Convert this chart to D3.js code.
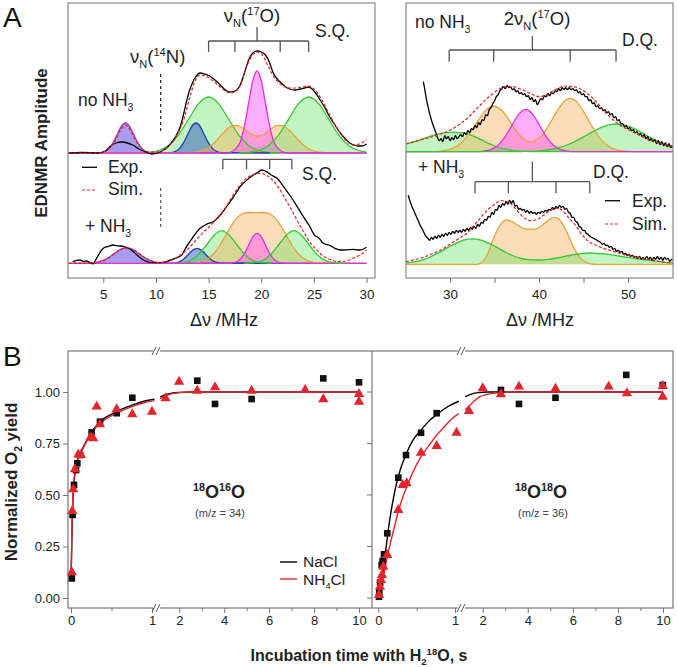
<!DOCTYPE html>
<html><head><meta charset="utf-8">
<script src="https://cdn.jsdelivr.net/npm/d3@7"></script>
<style>body{margin:0;background:#fff}svg{display:block}</style>
</head><body>
<svg id="c" width="677" height="667"></svg>
<script>
// ================= DATA =================
// Panel A: [MHz, amplitude] pairs
const tlPurple=[[1.7,0],[4.7,0.3],[5.1,1.3],[5.5,4.1],[5.9,9.8],[6.3,18.2],[6.7,26.5],[7.1,30],[7.5,26.5],[7.9,18.2],[8.3,9.8],[8.7,4.1],[9.1,1.3],[9.5,0.3],[30,0]];
const tlBlue=[[10.4,0],[11.4,0.3],[11.8,1.3],[12.2,4.1],[12.6,9.8],[13.0,18.2],[13.4,26.5],[13.8,30],[14.2,26.5],[14.6,18.2],[15.0,9.8],[15.4,4.1],[15.8,1.3],[16.2,0.3],[20.8,0]];
const tlGreen1=[[8.4,0],[9.3,0.6],[10.25,2.5],[11.2,7.6],[12.15,18.2],[13.1,33.9],[14.05,49.4],[15.0,56],[15.95,49.4],[16.9,33.9],[17.85,18.2],[18.8,7.6],[19.75,2.5],[20.7,0.6],[21.6,0]];
const tlGreen2=[[17.9,0],[18.8,0.6],[19.75,2.5],[20.7,7.6],[21.65,18.2],[22.6,33.9],[23.55,49.4],[24.5,56],[25.45,49.4],[26.4,33.9],[27.35,18.2],[28.3,7.6],[29.25,2.5],[30.0,0.8]];
const tlOrange=[[1.7,0],[12.5,0],[13,0.2],[13.5,0.5],[14,1.2],[14.5,2.8],[15,5.6],[15.5,9.9],[16,15.5],[16.5,21.3],[17,25.9],[17.5,27.7],[18,26.5],[18.5,23],[19,19.2],[19.5,17],[20,17.6],[20.5,20.7],[21,24.6],[21.5,27.4],[22,27.4],[22.5,24.3],[23,19.1],[23.5,13.2],[24,8],[24.5,4.3],[25,2],[25.5,0.8],[26,0.3],[26.5,0.1],[30,0]];
const tlMagenta=[[1.7,0],[16.7,0],[17.1,0.9],[17.5,3.6],[18.0,11.1],[18.4,26.7],[18.8,49.8],[19.2,72.3],[19.6,82],[20.0,72.3],[20.4,49.8],[20.8,26.7],[21.2,11.1],[21.7,3.6],[22.1,0.9],[22.5,0],[30,0]];
const tlExp=[[1.7,0],[3,0.5],[4.5,0],[5.2,2],[5.6,6],[6.2,10],[6.8,11],[7.3,10],[7.8,8],[8.4,4],[8.8,2],[9.6,-1],[10.4,1],[11.3,8],[12.3,26],[13.2,63],[13.7,75],[14.2,80],[14.6,79],[15.1,77],[15.6,73],[16.1,68],[16.6,63],[17.0,61],[17.5,62],[18.0,68],[18.4,80],[18.8,93],[19.2,100],[19.6,102],[20.0,101],[20.4,98],[20.8,90],[21.1,81],[21.5,74],[21.9,70],[22.3,66],[22.7,64],[23.2,63],[23.7,64],[24.1,65],[24.5,66],[25.0,62],[25.6,53],[26.0,46],[26.5,36],[27.0,28],[27.5,20],[28.0,14],[28.4,10],[28.8,8],[29.2,7],[29.6,7],[30,9]];
const tlSim=[[1.7,0],[4.5,0],[5.5,4],[6.2,14],[6.7,24],[7.1,28],[7.5,24],[8.1,12],[8.7,4],[9.3,1],[10,1],[11,5],[12,18],[12.6,32],[13.2,55],[13.7,72],[14.2,78],[14.7,77],[15.3,73],[16,67],[16.6,62],[17.1,60],[17.6,62],[18.1,70],[18.6,86],[19.1,97],[19.6,101],[20.1,98],[20.6,88],[21.1,78],[21.6,71],[22.1,67],[22.7,65],[23.3,65],[23.9,66],[24.5,67],[25.1,63],[25.7,54],[26.3,42],[26.9,30],[27.5,20],[28.1,12],[28.7,8],[29.3,9],[30,13]];

const blPurple=[[1.7,0],[3.6,0.2],[4.2,0.7],[4.8,2.1],[5.4,5.0],[6.0,9.4],[6.6,13.7],[7.2,15.5],[7.8,13.7],[8.4,9.4],[9.0,5.0],[9.6,2.1],[10.2,0.7],[10.8,0.2],[30,0]];
const blBlue=[[10.4,0],[11.5,0.2],[11.9,0.7],[12.3,2.0],[12.7,4.9],[13.1,9.1],[13.5,13.2],[13.9,15],[14.3,13.2],[14.7,9.1],[15.1,4.9],[15.5,2.0],[15.9,0.7],[16.3,0.2],[20.8,0]];
const blGreen1=[[11.5,0],[12.2,0.4],[12.9,1.4],[13.55,4.4],[14.2,10.6],[14.9,19.8],[15.6,28.8],[16.25,32.6],[16.9,28.8],[17.6,19.8],[18.3,10.6],[18.95,4.4],[19.6,1.4],[20.3,0.4],[21,0]];
const blGreen2=[[18.35,0],[19.05,0.4],[19.75,1.4],[20.4,4.4],[21.05,10.6],[21.75,19.8],[22.45,28.8],[23.1,32.6],[23.75,28.8],[24.45,19.8],[25.15,10.6],[25.8,4.4],[26.45,1.4],[27.15,0.4],[27.9,0]];
const blOrange=[[1.7,0],[13.5,0],[14,1.0],[14.5,2.3],[15,5.1],[15.5,9.8],[16,16.8],[16.5,25.7],[17,35],[17.5,43],[18,48.3],[18.5,50.5],[19,50.8],[19.5,50.6],[20,50.8],[20.5,50.5],[21,48.3],[21.5,43],[22,35],[22.5,25.7],[23,16.8],[23.5,9.8],[24,5.1],[24.5,2.3],[25,1.0],[25.5,0.35],[26,0.1],[26.5,0],[30,0]];
const blMagenta=[[1.7,0],[16.8,0],[17.2,0.3],[17.6,1.3],[18.0,4.1],[18.4,9.8],[18.8,18.2],[19.2,26.5],[19.6,30],[20.0,26.5],[20.4,18.2],[20.8,9.8],[21.2,4.1],[21.6,1.3],[22.0,0.3],[22.4,0],[30,0]];
const blExp=[[2.1,1.6],[2.5,3],[2.8,3.3],[3.1,2],[3.4,2.3],[3.7,1],[4.0,-0.6],[4.4,5.7],[4.7,11],[5.0,15],[5.5,17],[5.95,18.3],[6.3,17.5],[6.6,17.3],[7.0,16.5],[7.4,15],[7.8,12],[8.2,8.3],[8.8,3.3],[9.4,1],[10.4,0.7],[11.0,1.7],[11.6,4],[12.45,8.3],[12.9,16.6],[13.5,26],[14.2,35],[14.8,39],[15.45,41.6],[16.1,48],[16.7,56.6],[17.4,67],[18.0,76.6],[18.6,83],[19.25,88.3],[19.7,91],[20.05,93.3],[20.5,91.6],[21.0,88],[21.5,85],[22.1,77],[22.7,68.3],[23.4,57],[24.0,46.6],[24.6,37],[25.0,29],[25.5,25],[25.9,20],[26.5,18],[27.0,15],[27.5,13.3],[28.1,13.5],[28.7,14],[29.1,13.3],[29.5,13.5],[30.0,16]];
const blSim=[[1.7,0],[3.5,0],[4.5,1],[5.3,4],[6.1,10],[6.7,14],[7.2,15.5],[7.8,14],[8.5,9],[9.2,4],[10,1],[10.8,1],[11.5,3],[12.3,8],[13,14],[13.7,22],[14.4,30],[15.1,37],[15.8,45],[16.5,54],[17.2,66],[17.9,77],[18.6,85],[19.3,89],[19.9,90],[20.5,88],[21.1,83],[21.7,75],[22.3,64],[22.9,53],[23.5,41],[24.1,30],[24.7,20],[25.3,13],[25.9,7],[26.5,4],[27.1,2],[27.7,2],[28.3,3],[28.9,6],[29.5,9],[30,13]];

const trGreen1=[[25.05,7.5],[26,10],[27,13],[28,16],[29,18.3],[30,19.3],[30.75,19.4],[31.5,18.8],[32.5,16],[33.5,12],[34.5,7.5],[35.5,4],[36.5,2],[37.5,0.8],[38.5,0.3],[40,0],[55.05,0]];
const trOrange=[[25.05,0],[28,0],[29,0.6],[30,2.3],[31,6.8],[32,16],[33,29.1],[34,41.3],[34.9,45.7],[36,39.4],[37,26.6],[38,15],[38.5,11.3],[39,9.9],[40,13.4],[41,24.9],[42,40.3],[43,51.7],[43.5,53.4],[44,51.7],[45,40.3],[46,24.5],[47,11.6],[48,4.3],[49,1.2],[50,0.3],[51,0],[55.05,0]];
const trMagenta=[[25.05,0],[33.3,0],[33.7,0.5],[34.5,1.9],[35.3,5.7],[36.1,13.8],[36.9,25.7],[37.7,37.4],[38.5,42.4],[39.3,37.4],[40.1,25.7],[40.9,13.8],[41.7,5.7],[42.5,1.9],[43.3,0.5],[43.7,0],[55.05,0]];
const trGreen2=[[25.05,0],[37,0],[38,0.2],[39,0.4],[40,0.9],[41,1.8],[42,3.5],[43,6.2],[44,10],[45,14.8],[46,19.8],[47,24.3],[48,27.1],[48.7,27.7],[49.5,26.9],[50.5,23.9],[51.5,19.3],[52.5,14.3],[53.5,9.6],[54.5,5.9],[55.05,4.5]];
const trExp=[[27.0,70],[27.2,60],[27.4,50],[27.6,42],[27.8,35],[28.0,29],[28.2,24],[28.4,19],[28.6,14],[28.8,11],[29.0,13],[29.2,10],[29.4,16],[29.6,13],[29.8,15],[30.0,11],[30.2,14],[30.4,12],[30.6,16],[30.8,13],[31.0,15],[31.2,17],[31.4,15],[31.6,19],[31.8,17],[32.0,21],[32.2,19],[32.4,23],[32.6,22],[32.8,26],[33.0,24],[33.2,29],[33.4,27],[33.6,32],[33.8,31],[34.0,37],[34.2,36],[34.4,42],[34.6,44],[34.8,48],[35.0,51],[35.2,55],[35.4,57],[35.6,61],[35.8,63],[36.0,65],[36.2,63],[36.4,66],[36.6,64],[36.8,65],[37.0,62],[37.2,63],[37.4,60],[37.6,61],[37.8,58],[38.0,59],[38.2,57],[38.4,58],[38.6,55],[38.8,56],[39.0,52],[39.2,54],[39.4,50],[39.6,52],[39.8,47],[40.0,50],[40.2,53],[40.4,52],[40.6,56],[40.8,55],[41.0,58],[41.2,56],[41.4,59],[41.6,58],[41.8,61],[42.0,60],[42.2,63],[42.4,61],[42.6,64],[42.8,62],[43.0,64],[43.2,62],[43.4,64],[43.6,62],[43.8,63],[44.0,61],[44.2,62],[44.4,59],[44.6,60],[44.8,57],[45.0,58],[45.2,55],[45.4,55],[45.6,51],[45.8,52],[46.0,48],[46.2,49],[46.4,45],[46.6,46],[46.8,43],[47.0,44],[47.2,41],[47.4,42],[47.6,39],[47.8,40],[48.0,37],[48.2,38],[48.4,34],[48.6,35],[48.8,31],[49.0,32],[49.2,28],[49.4,28],[49.6,25],[49.8,26],[50.0,23],[50.2,24],[50.4,21],[50.6,22],[50.8,19],[51.0,20],[51.2,17],[51.4,18],[51.6,15],[51.8,17],[52.0,13],[52.2,15],[52.4,11],[52.6,13],[52.8,10],[53.0,12],[53.2,8],[53.4,11],[53.6,7],[53.8,10],[54.0,6],[54.2,9],[54.4,5],[54.6,8],[54.8,4],[55.0,6]];
const trSim=[[25.05,8],[26,10],[27,12.5],[28,15],[29,18],[30,21.5],[31,27],[32,34],[33,43],[34,52],[34.8,58],[35.6,63],[36.4,65],[37.1,65],[37.8,63],[38.6,60],[39.3,57],[40.1,55],[40.8,57],[41.6,61],[42.4,64.5],[43.1,65.7],[43.8,65],[44.6,63],[45.3,59],[46.1,53],[46.8,46],[47.6,38],[48.3,32],[49.1,26.5],[49.9,22.5],[50.6,19.5],[51.4,16],[52.1,13],[52.9,10.5],[53.6,8.3],[54.3,6.8],[55.05,5.5]];

const brGreen=[[25.05,1.1],[26,2.4],[27,4.7],[28,8.3],[29,12.9],[30,18],[31,22.5],[32,25.1],[32.5,25.5],[33,25.1],[34,22.5],[35,18.1],[36,13.2],[37,8.8],[38,5.8],[39,4.4],[40,4.3],[41,4.9],[42,6.3],[43,8.1],[44,9.8],[45,11],[45.7,11.3],[46.5,11],[47,10.6],[48,9.6],[49,8.3],[50,6.9],[51,5.5],[52,4.2],[53,3.1],[54,2.2],[55.05,1.5]];
const brOrange=[[25.05,0],[33.0,0],[33.6,2],[34.2,10],[34.8,24],[35.4,36],[36.0,43],[36.4,44.3],[36.9,43],[37.6,39],[38.4,35.5],[39.1,35],[39.8,36],[40.5,40],[41.2,45],[41.7,47],[42.2,45.5],[42.8,38],[43.4,27],[44.0,15],[44.6,7],[45.2,2.5],[45.8,0.5],[46.5,0],[55.05,0]];
const brExp=[[25.3,69],[25.5,63],[25.7,58],[25.9,54],[26.1,50],[26.3,46],[26.5,42],[26.7,38],[26.9,35],[27.1,31],[27.3,28],[27.5,26],[27.7,24],[27.9,27],[28.1,25],[28.3,28],[28.5,26],[28.7,29],[28.9,27],[29.1,30],[29.3,28],[29.5,31],[29.7,29],[29.9,32],[30.1,30],[30.3,33],[30.5,31],[30.7,34],[30.9,32],[31.1,34],[31.3,32],[31.5,35],[31.7,33],[31.9,36],[32.1,34],[32.3,37],[32.5,35],[32.7,38],[32.9,36],[33.1,40],[33.3,38],[33.5,42],[33.7,41],[33.9,45],[34.1,44],[34.3,48],[34.5,47],[34.7,52],[34.9,50],[35.1,55],[35.3,54],[35.5,59],[35.7,57],[35.9,61],[36.1,59],[36.3,63],[36.5,60],[36.7,64],[36.9,61],[37.1,64],[37.3,58],[37.5,59],[37.7,55],[37.9,56],[38.1,54],[38.3,55],[38.5,52],[38.7,54],[38.9,51],[39.1,53],[39.3,51],[39.5,52],[39.7,50],[39.9,52],[40.1,51],[40.3,53],[40.5,52],[40.7,54],[40.9,53],[41.1,55],[41.3,54],[41.5,57],[41.7,55],[41.9,58],[42.1,56],[42.3,59],[42.5,57],[42.7,58],[42.9,55],[43.1,56],[43.3,52],[43.5,51],[43.7,47],[43.9,47],[44.1,43],[44.3,42],[44.5,38],[44.7,37],[44.9,34],[45.1,34],[45.3,31],[45.5,30],[45.7,28],[45.9,27],[46.1,26],[46.3,25],[46.5,24],[46.7,23],[46.9,22],[47.1,20],[47.3,21],[47.5,19],[47.7,19],[47.9,17],[48.1,18],[48.3,15],[48.5,16],[48.7,13],[48.9,14],[49.1,12],[49.3,13],[49.5,10],[49.7,11],[49.9,9],[50.1,10],[50.3,8],[50.5,9],[50.7,7],[50.9,8],[51.1,6],[51.3,8],[51.5,5],[51.7,7],[51.9,5],[52.1,8],[52.3,5],[52.5,7],[52.7,4],[52.9,7],[53.1,5],[53.3,8],[53.5,5],[53.7,7],[53.9,4],[54.1,7],[54.3,5],[54.5,6],[54.7,3],[54.9,5],[55.0,4]];
const brSim=[[25.05,2.7],[26,4.5],[27,7],[28,10.5],[29,14.5],[29.6,17.7],[30.5,23],[31.2,27],[31.9,31],[32.6,38],[33.2,44],[33.7,49.4],[34.3,55],[34.9,59.4],[35.4,62.5],[35.8,63.6],[36.3,63],[36.9,60],[37.5,54],[38.2,47.5],[39.0,43.6],[39.8,45],[40.5,49],[41.2,53.5],[42.0,56],[42.6,54],[43.2,48],[43.7,43],[44.2,37.7],[44.7,31],[45.2,26],[45.7,22],[46.4,19],[47.2,16],[48.3,13],[49.5,10],[50.6,8],[51.7,6],[52.7,4.2],[53.6,2.7],[54.3,1.8],[55.05,1]];

// stick diagrams (MHz)
const sqTopSticks=[15.0,17.5,21.8,24.5], sqTopCenter=19.6;
const sqBotSticks=[16.35,18.6,20.8,22.9];
const dqTopSticks=[29.9,34.9,43.5,48.65], dqTopCenter=39.25;
const dqBotSticks=[32.8,36.55,41.9,45.7], dqBotCenter=39.25;
const n14Line=10.45;
const ticksAL=[5,10,15,20,25,30];
const ticksAR=[30,35,40,45,50];

// Panel B: [time s, normalized yield]
const b34NaCl=[[0.01,0.095],[0.02,0.403],[0.037,0.549],[0.062,0.621],[0.078,0.654],[0.111,0.694],[0.255,0.804],[0.358,0.856],[0.564,0.897],[0.757,0.972],[2.80,1.055],[3.59,0.942],[5.22,0.966],[8.41,1.066],[10.0,1.047]];
const b34NH4Cl=[[0.01,0.125],[0.016,0.422],[0.028,0.528],[0.049,0.625],[0.09,0.697],[0.123,0.694],[0.243,0.78],[0.275,0.775],[0.317,0.929],[0.358,0.843],[0.564,0.916],[0.757,0.892],[1.0,0.904],[1.39,0.969],[1.99,1.05],[2.80,1.006],[3.59,1.023],[5.22,1.006],[7.6,1.01],[8.41,0.965],[10,0.99],[10,0.953]];
const b36NaCl=[[0.009,0.006],[0.013,0.03],[0.024,0.075],[0.044,0.16],[0.057,0.18],[0.074,0.212],[0.117,0.314],[0.261,0.584],[0.361,0.694],[0.557,0.802],[0.761,0.897],[2.81,1.01],[3.61,0.942],[5.23,0.972],[8.37,1.083],[9.99,1.034]];
const b36NH4Cl=[[0.009,0.015],[0.022,0.055],[0.035,0.087],[0.048,0.112],[0.065,0.152],[0.117,0.209],[0.261,0.427],[0.317,0.549],[0.37,0.557],[0.557,0.705],[0.761,0.738],[1.02,0.802],[1.39,0.908],[2.0,1.018],[2.81,0.989],[3.61,1.026],[5.23,1.016],[7.59,1.026],[8.4,0.994],[9.99,1.029],[9.99,0.977]];
const fit34NaClA=[[0,0.10],[0.005,0.17],[0.01,0.28],[0.016,0.39],[0.025,0.49],[0.037,0.56],[0.05,0.61],[0.066,0.65],[0.08,0.67],[0.1,0.694],[0.135,0.72],[0.2,0.77],[0.255,0.806],[0.358,0.856],[0.45,0.882],[0.564,0.905],[0.68,0.925],[0.78,0.94],[0.9,0.955],[1.03,0.965]];
const fit34NaClB=[[1.15,0.975],[1.4,0.988],[1.7,0.995],[2,0.998],[2.5,1.0],[3,1.0],[10,1.0]];
const fit34NH4ClA=[[0,0.12],[0.005,0.19],[0.01,0.29],[0.016,0.40],[0.025,0.50],[0.037,0.57],[0.05,0.61],[0.066,0.65],[0.08,0.67],[0.1,0.69],[0.135,0.715],[0.2,0.765],[0.255,0.8],[0.358,0.848],[0.45,0.874],[0.564,0.898],[0.68,0.918],[0.78,0.933],[0.9,0.948],[1.03,0.958]];
const fit34NH4ClB=[[1.15,0.968],[1.4,0.982],[1.7,0.992],[2,0.997],[2.5,1.0],[3,1.0],[10,1.0]];
const fit36NaClA=[[0,0],[0.03,0.04],[0.065,0.14],[0.1,0.24],[0.13,0.33],[0.2,0.49],[0.26,0.59],[0.37,0.705],[0.45,0.765],[0.557,0.815],[0.65,0.855],[0.761,0.89],[0.85,0.915],[0.935,0.935],[1.05,0.955]];
const fit36NaClB=[[1.22,0.978],[1.5,0.99],[1.8,0.997],[2.2,1.0],[3,1.0],[10,1.0]];
const fit36NH4ClA=[[0,0],[0.02,0.02],[0.05,0.07],[0.08,0.13],[0.117,0.2],[0.16,0.27],[0.2,0.33],[0.261,0.42],[0.32,0.49],[0.37,0.54],[0.45,0.61],[0.557,0.686],[0.65,0.735],[0.761,0.79],[0.87,0.835],[0.96,0.87],[1.05,0.895]];
const fit36NH4ClB=[[1.22,0.913],[1.44,0.937],[1.88,0.977],[2.47,0.994],[3.2,1.0],[10,1.0]];
const ticksBY=[0,0.25,0.5,0.75,1.0];
const ticksBseg1=[0,1], ticksBseg2=[2,4,6,8,10], minorBseg1=[0.5], minorBseg2=[3,5,7,9];

// ================= DRAWING =================
const F='"Liberation Sans", Arial, Helvetica, sans-serif';
const svg=d3.select('#c');
const TXT='#222';

function rich(g,x,y,parts,size,o={}){
  const t=g.append('text').attr('x',x).attr('y',y).attr('font-size',size).attr('font-family',F)
    .attr('text-anchor',o.anchor||'start').attr('fill',o.fill||TXT).attr('font-weight',o.weight||'normal');
  if(o.transform) t.attr('transform',o.transform);
  let shift=0;
  parts.forEach(p=>{
    const [txt,kind]=Array.isArray(p)?p:[p,null];
    const target=kind==='sub'?size*0.28:kind==='sup'?-size*0.38:0;
    const ts=t.append('tspan').text(txt).attr('dy',target-shift);
    if(kind) ts.attr('font-size',size*0.6);
    shift=target;
  });
  return t;
}

const COL={
  green:{fill:'rgba(70,225,70,0.33)',stroke:'#33c833'},
  blue:{fill:'rgba(30,70,190,0.45)',stroke:'#1f3fb0'},
  orange:{fill:'rgba(250,165,70,0.38)',stroke:'#e9a23b'},
  magenta:{fill:'rgba(255,60,255,0.42)',stroke:'#e030e0'},
  purple:{fill:'rgba(110,90,230,0.6)',stroke:'#a13fb5'}
};

// ---- Panel A scales
const xL=d3.scaleLinear().domain([1.65,30.8]).range([68,375]);
const xR=d3.scaleLinear().domain([25.05,55.05]).range([406,673]);
const yTL=d3.scaleLinear().domain([0,100]).range([153,53]);
const yBL=d3.scaleLinear().domain([0,100]).range([263.3,163.3]);
const yTR=d3.scaleLinear().domain([0,100]).range([151.7,51.7]);
const yBR=d3.scaleLinear().domain([0,100]).range([264.3,164.3]);

const defs=svg.append('defs');
defs.append('clipPath').attr('id','cl').append('rect').attr('x',68).attr('y',3).attr('width',307).attr('height',275);
defs.append('clipPath').attr('id','cr').append('rect').attr('x',406).attr('y',3).attr('width',267).attr('height',275);

function spectrum(g,x,y,comps,expD,simD){
  const area=d3.area().x(d=>x(d[0])).y0(y(0)).y1(d=>y(d[1])).curve(d3.curveMonotoneX);
  const line=d3.line().x(d=>x(d[0])).y(d=>y(d[1])).curve(d3.curveMonotoneX);
  comps.forEach(c=>g.append('path').datum(c.d).attr('d',area).attr('fill',COL[c.c].fill));
  comps.forEach(c=>g.append('path').datum(c.d).attr('d',line).attr('fill','none').attr('stroke',COL[c.c].stroke).attr('stroke-width',1.3));
  g.append('path').datum(expD).attr('d',line).attr('fill','none').attr('stroke','#000').attr('stroke-width',1.3);
  g.append('path').datum(simD).attr('d',line).attr('fill','none').attr('stroke','#e02020').attr('stroke-width',1.2).attr('stroke-dasharray','3,2');
}

const gL=svg.append('g').attr('clip-path','url(#cl)');
spectrum(gL,xL,yTL,[{d:tlPurple,c:'purple'},{d:tlGreen1,c:'green'},{d:tlBlue,c:'blue'},{d:tlOrange,c:'orange'},{d:tlMagenta,c:'magenta'},{d:tlGreen2,c:'green'}],tlExp,tlSim);
spectrum(gL,xL,yBL,[{d:blPurple,c:'purple'},{d:blBlue,c:'blue'},{d:blGreen1,c:'green'},{d:blOrange,c:'orange'},{d:blMagenta,c:'magenta'},{d:blGreen2,c:'green'}],blExp,blSim);
const gR=svg.append('g').attr('clip-path','url(#cr)');
spectrum(gR,xR,yTR,[{d:trGreen1,c:'green'},{d:trOrange,c:'orange'},{d:trMagenta,c:'magenta'},{d:trGreen2,c:'green'}],trExp,trSim);
spectrum(gR,xR,yBR,[{d:brOrange,c:'orange'},{d:brGreen,c:'green'}],brExp,brSim);

// frames
svg.append('rect').attr('x',68).attr('y',3).attr('width',307).attr('height',275).attr('fill','none').attr('stroke','#888').attr('stroke-width',1.2);
svg.append('rect').attr('x',406).attr('y',3).attr('width',267).attr('height',275).attr('fill','none').attr('stroke','#888').attr('stroke-width',1.2);

function styleAxis(a,size){
  a.select('.domain').remove();
  a.selectAll('line').attr('stroke','#777');
  a.selectAll('text').attr('font-family',F).attr('font-size',size).attr('fill',TXT);
}
styleAxis(svg.append('g').attr('transform','translate(0,278)').call(d3.axisBottom(xL).tickValues(ticksAL).tickSize(5).tickPadding(6)),13.5);
styleAxis(svg.append('g').attr('transform','translate(0,278)').call(d3.axisBottom(xR).tickValues(ticksAR).tickSize(5).tickPadding(6).tickFormat(d=>d%10===0?d:'')),13.5);

// stick diagrams
function sticks(x,vals,center,yH,yTick,yStem){
  const g=svg.append('g').attr('stroke','#555').attr('stroke-width',1.3).attr('fill','none');
  g.append('line').attr('x1',x(vals[0])).attr('x2',x(vals[vals.length-1])).attr('y1',yH).attr('y2',yH);
  vals.forEach(v=>g.append('line').attr('x1',x(v)).attr('x2',x(v)).attr('y1',yH).attr('y2',yTick));
  if(center!=null) g.append('line').attr('x1',x(center)).attr('x2',x(center)).attr('y1',yH).attr('y2',yStem);
}
sticks(xL,sqTopSticks,sqTopCenter,41,52,27);
sticks(xL,sqBotSticks,null,159.3,169.3,0);
sticks(xR,dqTopSticks,dqTopCenter,50,61.7,36);
sticks(xR,dqBotSticks,dqBotCenter,181.7,193.3,161.7);

// 14N dashed lines
svg.append('line').attr('x1',xL(n14Line)).attr('x2',xL(n14Line)).attr('y1',74).attr('y2',132).attr('stroke','#222').attr('stroke-width',1.2).attr('stroke-dasharray','3,3');
svg.append('line').attr('x1',xL(n14Line)).attr('x2',xL(n14Line)).attr('y1',188).attr('y2',228).attr('stroke','#555').attr('stroke-width',1.2).attr('stroke-dasharray','3,3');

// Panel A texts
svg.append('text').attr('x',3).attr('y',27).attr('font-family',F).attr('font-size',28).attr('fill','#111').text('A');
rich(svg,252,22,['ν',['N','sub'],'(',['17','sup'],'O)'],18.5,{anchor:'middle'});
rich(svg,315,37,['S.Q.'],17.5);
rich(svg,130,63,['ν',['N','sub'],'(',['14','sup'],'N)'],18.5);
rich(svg,78,106,['no NH',['3','sub']],17.5);
rich(svg,85,232,['+ NH',['3','sub']],17.5);
rich(svg,302,180,['S.Q.'],17.5);
svg.append('line').attr('x1',82).attr('x2',97).attr('y1',167.3).attr('y2',167.3).attr('stroke','#000').attr('stroke-width',1.3);
rich(svg,108,173,['Exp.'],17.5);
svg.append('line').attr('x1',82).attr('x2',97).attr('y1',190).attr('y2',190).attr('stroke','#e02020').attr('stroke-width',1.2).attr('stroke-dasharray','3,2');
rich(svg,108,195,['Sim.'],17.5);
rich(svg,415,28,['no NH',['3','sub']],17.5);
rich(svg,537,25,['2ν',['N','sub'],'(',['17','sup'],'O)'],18.5,{anchor:'middle'});
rich(svg,622,46,['D.Q.'],17.5);
rich(svg,418,173,['+ NH',['3','sub']],17.5);
rich(svg,593,178,['D.Q.'],17.5);
svg.append('line').attr('x1',605).attr('x2',620).attr('y1',200.7).attr('y2',200.7).attr('stroke','#000').attr('stroke-width',1.3);
rich(svg,632,207,['Exp.'],17.5);
svg.append('line').attr('x1',605).attr('x2',620).attr('y1',224).attr('y2',224).attr('stroke','#e02020').attr('stroke-width',1.2).attr('stroke-dasharray','3,2');
rich(svg,632,230,['Sim.'],17.5);
rich(svg,224,326,['Δν /MHz'],18,{anchor:'middle'});
rich(svg,540,326,['Δν /MHz'],18,{anchor:'middle'});
rich(svg,0,0,['EDNMR Amplitude'],17,{anchor:'middle',weight:'bold',transform:'translate(47,143) rotate(-90)'});

// ---- Panel B
const yB=d3.scaleLinear().domain([0,1]).range([598,392]);
const BL={s1:d3.scaleLinear().domain([0,1]).range([71,152]),s2:d3.scaleLinear().domain([2,10]).range([179.3,359])};
const BR={s1:d3.scaleLinear().domain([0,1]).range([378.3,455]),s2:d3.scaleLinear().domain([2,10]).range([482.7,663])};
const bx=(S,t)=>t<=1.08?S.s1(t):S.s2(t);

svg.append('rect').attr('x',68).attr('y',351).attr('width',605).attr('height',257).attr('fill','none').attr('stroke','#777').attr('stroke-width',1.2);
svg.append('line').attr('x1',372).attr('x2',372).attr('y1',351).attr('y2',608).attr('stroke','#777').attr('stroke-width',1.2);

styleAxis(svg.append('g').attr('transform','translate(68,0)').call(d3.axisLeft(yB).tickValues(ticksBY).tickFormat(d3.format('.2f')).tickSize(5).tickPadding(3)),13);
ticksBY.forEach(v=>svg.append('line').attr('x1',367).attr('x2',372).attr('y1',yB(v)).attr('y2',yB(v)).attr('stroke','#777'));

const fmtInt=d3.format('d');
[BL,BR].forEach(S=>{
  styleAxis(svg.append('g').attr('transform','translate(0,608)').call(d3.axisBottom(S.s1).tickValues(ticksBseg1).tickFormat(fmtInt).tickSize(5).tickPadding(3)),13);
  styleAxis(svg.append('g').attr('transform','translate(0,608)').call(d3.axisBottom(S.s2).tickValues(ticksBseg2).tickFormat(fmtInt).tickSize(5).tickPadding(3)),13);
  styleAxis(svg.append('g').attr('transform','translate(0,608)').call(d3.axisBottom(S.s1).tickValues(minorBseg1).tickSize(3).tickFormat('')),13);
  styleAxis(svg.append('g').attr('transform','translate(0,608)').call(d3.axisBottom(S.s2).tickValues(minorBseg2).tickSize(3).tickFormat('')),13);
});

// break marks
[157,462].forEach(x=>[351,608].forEach(y=>{
  svg.append('rect').attr('x',x-4).attr('y',y-2).attr('width',7).attr('height',4).attr('fill','#fff');
  svg.append('line').attr('x1',x-5).attr('y1',y+4).attr('x2',x-1).attr('y2',y-4).attr('stroke','#555').attr('stroke-width',1);
  svg.append('line').attr('x1',x-1).attr('y1',y+4).attr('x2',x+3).attr('y2',y-4).attr('stroke','#555').attr('stroke-width',1);
}));

const RED='#e3262c';
function fitLine(S,d,color){
  svg.append('path').datum(d).attr('d',d3.line().x(p=>bx(S,p[0])).y(p=>yB(p[1])).curve(d3.curveMonotoneX))
    .attr('fill','none').attr('stroke',color).attr('stroke-width',1.4);
}
fitLine(BL,fit34NaClA,'#000');fitLine(BL,fit34NaClB,'#000');
fitLine(BL,fit34NH4ClA,RED);fitLine(BL,fit34NH4ClB,RED);
fitLine(BR,fit36NaClA,'#000');fitLine(BR,fit36NaClB,'#000');
fitLine(BR,fit36NH4ClA,RED);fitLine(BR,fit36NH4ClB,RED);

const sq=d3.symbol(d3.symbolSquare,44), tri=d3.symbol(d3.symbolTriangle,46);
function pts(S,d,sym,color){
  svg.append('g').selectAll('path').data(d).join('path').attr('d',sym)
    .attr('transform',p=>`translate(${bx(S,p[0])},${yB(p[1])})`).attr('fill',color);
}
pts(BL,b34NaCl,sq,'#111');pts(BL,b34NH4Cl,tri,RED);
pts(BR,b36NaCl,sq,'#111');pts(BR,b36NH4Cl,tri,RED);

// B texts
svg.append('text').attr('x',3).attr('y',366).attr('font-family',F).attr('font-size',28).attr('fill','#111').text('B');
rich(svg,219,498,[['18','sup'],'O',['16','sup'],'O'],18,{anchor:'middle',weight:'bold'});
rich(svg,220,517,['(m/z = 34)'],11,{anchor:'middle',fill:'#444'});
rich(svg,541,498,[['18','sup'],'O',['18','sup'],'O'],18,{anchor:'middle',weight:'bold'});
rich(svg,543,517,['(m/z = 36)'],11,{anchor:'middle',fill:'#444'});
svg.append('line').attr('x1',280).attr('x2',297).attr('y1',562).attr('y2',562).attr('stroke','#000').attr('stroke-width',1.4);
rich(svg,303,567,['NaCl'],15.5);
svg.append('line').attr('x1',280).attr('x2',297).attr('y1',579).attr('y2',579).attr('stroke',RED).attr('stroke-width',1.4);
rich(svg,303,585,['NH',['4','sub'],'Cl'],15.5);
rich(svg,0,0,['Normalized O',['2','sub'],' yield'],17,{anchor:'middle',weight:'bold',transform:'translate(17,482) rotate(-90)'});
rich(svg,359,661,['Incubation time with H',['2','sub'],['18','sup'],'O, s'],16,{anchor:'middle',weight:'bold'});
</script>
</body></html>
